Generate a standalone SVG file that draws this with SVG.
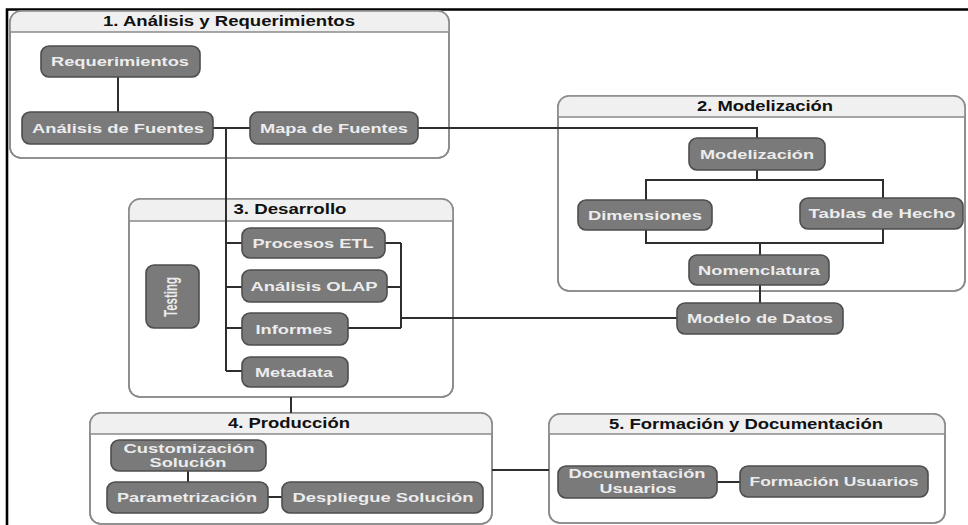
<svg xmlns="http://www.w3.org/2000/svg" width="968" height="525" viewBox="0 0 968 525">
  <style>
    .grp { fill: #ffffff; stroke: #8a8a8a; stroke-width: 1.6; }
    .grp-frame { fill: none; stroke: #8a8a8a; stroke-width: 1.6; }
    .hdr { fill: #f0f0f0; }
    .hdr-line { stroke: #8a8a8a; stroke-width: 1.4; }
    .title { font-family: "Liberation Sans", Arial, sans-serif; font-weight: bold; font-size: 14px; fill: #111111; text-anchor: middle; }
    .node rect { fill: #7a7a7a; stroke: #4e4e4e; stroke-width: 1.6; }
    .lbl { font-family: "Liberation Sans", Arial, sans-serif; font-weight: bold; font-size: 13.5px; fill: #ececec; text-anchor: middle; }
    .wire { fill: none; stroke: #2e2e2e; stroke-width: 2; }
  </style>

  <rect x="0" y="0" width="968" height="525" fill="#ffffff"/>
  <!-- page frame -->
  <path d="M7,525 V9.5 H968" fill="none" stroke="#000000" stroke-width="2.6"/>

  <!-- 1. Análisis y Requerimientos -->
  <g id="group-analisis">
    <rect class="grp" x="10" y="11" width="439" height="147" rx="11"/>
    <path class="hdr" d="M10,32 V22 Q10,11 21,11 H438 Q449,11 449,22 V32 Z"/>
    <line class="hdr-line" x1="10" y1="32" x2="449" y2="32"/>
    <rect class="grp-frame" x="10" y="11" width="439" height="147" rx="11"/>
    <text class="title" x="229" y="26" textLength="252" lengthAdjust="spacingAndGlyphs">1. Análisis y Requerimientos</text>
  </g>

  <!-- 2. Modelización -->
  <g id="group-modelizacion">
    <rect class="grp" x="558" y="96" width="407" height="195" rx="11"/>
    <path class="hdr" d="M558,117 V107 Q558,96 569,96 H954 Q965,96 965,107 V117 Z"/>
    <line class="hdr-line" x1="558" y1="117" x2="965" y2="117"/>
    <rect class="grp-frame" x="558" y="96" width="407" height="195" rx="11"/>
    <text class="title" x="765" y="111" textLength="136" lengthAdjust="spacingAndGlyphs">2. Modelización</text>
  </g>

  <!-- 3. Desarrollo -->
  <g id="group-desarrollo">
    <rect class="grp" x="129" y="199" width="324" height="198" rx="11"/>
    <path class="hdr" d="M129,221 V210 Q129,199 140,199 H442 Q453,199 453,210 V221 Z"/>
    <line class="hdr-line" x1="129" y1="221" x2="453" y2="221"/>
    <rect class="grp-frame" x="129" y="199" width="324" height="198" rx="11"/>
    <text class="title" x="290" y="214" textLength="113" lengthAdjust="spacingAndGlyphs">3. Desarrollo</text>
  </g>

  <!-- 4. Producción -->
  <g id="group-produccion">
    <rect class="grp" x="90" y="413" width="402" height="111" rx="11"/>
    <path class="hdr" d="M90,434 V424 Q90,413 101,413 H481 Q492,413 492,424 V434 Z"/>
    <line class="hdr-line" x1="90" y1="434" x2="492" y2="434"/>
    <rect class="grp-frame" x="90" y="413" width="402" height="111" rx="11"/>
    <text class="title" x="289" y="428" textLength="122" lengthAdjust="spacingAndGlyphs">4. Producción</text>
  </g>

  <!-- 5. Formación y Documentación -->
  <g id="group-formacion">
    <rect class="grp" x="549" y="414" width="396" height="109" rx="11"/>
    <path class="hdr" d="M549,434 V425 Q549,414 560,414 H934 Q945,414 945,425 V434 Z"/>
    <line class="hdr-line" x1="549" y1="434" x2="945" y2="434"/>
    <rect class="grp-frame" x="549" y="414" width="396" height="109" rx="11"/>
    <text class="title" x="746" y="429" textLength="274" lengthAdjust="spacingAndGlyphs">5. Formación y Documentación</text>
  </g>

  <!-- connectors -->
  <g id="connectors">
    <path class="wire" d="M118,77 V112"/>
    <path class="wire" d="M213,128 H250"/>
    <path class="wire" d="M226,128 V371"/>
    <path class="wire" d="M226,243 H242 M226,287 H242 M226,328 H242 M226,371 H242"/>
    <path class="wire" d="M418,128 H757 V138"/>
    <path class="wire" d="M757,170 V180"/>
    <path class="wire" d="M646,200 V180 H883 V198"/>
    <path class="wire" d="M646,230 V243 H883 V229"/>
    <path class="wire" d="M760,243 V255"/>
    <path class="wire" d="M760,285 V303"/>
    <path class="wire" d="M385,243 H401 M387,287 H401 M348,328 H401 M401,243 V328"/>
    <path class="wire" d="M401,318 H677"/>
    <path class="wire" d="M291,397 V413"/>
    <path class="wire" d="M188,471 V482"/>
    <path class="wire" d="M268,497 H282"/>
    <path class="wire" d="M492,470 H549"/>
    <path class="wire" d="M717,482 H740"/>
  </g>

  <!-- nodes -->
  <g id="n-requerimientos" class="node">
    <rect x="41" y="46" width="159" height="31" rx="8"/>
    <text class="lbl" x="120" y="66" textLength="138" lengthAdjust="spacingAndGlyphs">Requerimientos</text>
  </g>
  <g id="n-analisis-fuentes" class="node">
    <rect x="22" y="112" width="191" height="32" rx="8"/>
    <text class="lbl" x="118" y="133" textLength="172" lengthAdjust="spacingAndGlyphs">Análisis de Fuentes</text>
  </g>
  <g id="n-mapa-fuentes" class="node">
    <rect x="250" y="112" width="168" height="32" rx="8"/>
    <text class="lbl" x="334" y="133" textLength="148" lengthAdjust="spacingAndGlyphs">Mapa de Fuentes</text>
  </g>
  <g id="n-modelizacion" class="node">
    <rect x="689" y="138" width="136" height="32" rx="8"/>
    <text class="lbl" x="757" y="159" textLength="114" lengthAdjust="spacingAndGlyphs">Modelización</text>
  </g>
  <g id="n-dimensiones" class="node">
    <rect x="578" y="200" width="134" height="30" rx="8"/>
    <text class="lbl" x="645" y="220" textLength="114" lengthAdjust="spacingAndGlyphs">Dimensiones</text>
  </g>
  <g id="n-tablas-hecho" class="node">
    <rect x="800" y="198" width="163" height="31" rx="8"/>
    <text class="lbl" x="882" y="218" textLength="147" lengthAdjust="spacingAndGlyphs">Tablas de Hecho</text>
  </g>
  <g id="n-nomenclatura" class="node">
    <rect x="689" y="255" width="140" height="30" rx="8"/>
    <text class="lbl" x="759" y="275" textLength="122" lengthAdjust="spacingAndGlyphs">Nomenclatura</text>
  </g>
  <g id="n-modelo-datos" class="node">
    <rect x="677" y="303" width="166" height="31" rx="8"/>
    <text class="lbl" x="760" y="323" textLength="146" lengthAdjust="spacingAndGlyphs">Modelo de Datos</text>
  </g>
  <g id="n-testing" class="node">
    <rect x="146" y="265" width="53" height="63" rx="8"/>
    <!-- vertical label, widened across the reading direction -->
    <text class="lbl" x="0" y="4" transform="translate(172 297) rotate(-90) scale(1 1.33)" textLength="40" lengthAdjust="spacingAndGlyphs">Testing</text>
  </g>
  <g id="n-procesos-etl" class="node">
    <rect x="242" y="228" width="143" height="30" rx="8"/>
    <text class="lbl" x="313" y="248" textLength="121" lengthAdjust="spacingAndGlyphs">Procesos ETL</text>
  </g>
  <g id="n-analisis-olap" class="node">
    <rect x="242" y="270" width="145" height="32" rx="8"/>
    <text class="lbl" x="314" y="291" textLength="127" lengthAdjust="spacingAndGlyphs">Análisis OLAP</text>
  </g>
  <g id="n-informes" class="node">
    <rect x="242" y="313" width="106" height="32" rx="8"/>
    <text class="lbl" x="294" y="334" textLength="77" lengthAdjust="spacingAndGlyphs">Informes</text>
  </g>
  <g id="n-metadata" class="node">
    <rect x="242" y="357" width="106" height="30" rx="8"/>
    <text class="lbl" x="294" y="377" textLength="78" lengthAdjust="spacingAndGlyphs">Metadata</text>
  </g>
  <g id="n-customizacion" class="node">
    <rect x="111" y="440" width="155" height="31" rx="8"/>
    <text class="lbl" x="189" y="453" textLength="131" lengthAdjust="spacingAndGlyphs">Customización</text>
    <text class="lbl" x="188" y="467" textLength="77" lengthAdjust="spacingAndGlyphs">Solución</text>
  </g>
  <g id="n-parametrizacion" class="node">
    <rect x="107" y="482" width="161" height="31" rx="8"/>
    <text class="lbl" x="187" y="502" textLength="140" lengthAdjust="spacingAndGlyphs">Parametrización</text>
  </g>
  <g id="n-despliegue" class="node">
    <rect x="282" y="482" width="201" height="31" rx="8"/>
    <text class="lbl" x="383" y="502" textLength="181" lengthAdjust="spacingAndGlyphs">Despliegue Solución</text>
  </g>
  <g id="n-documentacion" class="node">
    <rect x="558" y="466" width="159" height="32" rx="8"/>
    <text class="lbl" x="637" y="478" textLength="137" lengthAdjust="spacingAndGlyphs">Documentación</text>
    <text class="lbl" x="638" y="493" textLength="77" lengthAdjust="spacingAndGlyphs">Usuarios</text>
  </g>
  <g id="n-formacion-usuarios" class="node">
    <rect x="740" y="466" width="188" height="31" rx="8"/>
    <text class="lbl" x="834" y="486" textLength="169" lengthAdjust="spacingAndGlyphs">Formación Usuarios</text>
  </g>
</svg>
